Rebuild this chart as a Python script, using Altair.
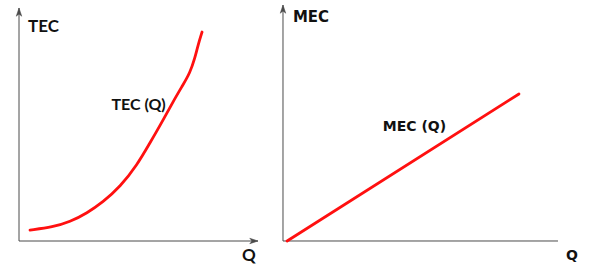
import altair as alt
import pandas as pd

# ---- data (economic units) ----
tec_q = [0.46, 1.42, 2.13, 2.85, 3.51, 4.23, 4.94, 5.48, 6.03, 6.44, 6.86, 7.15, 7.36, 7.49, 7.66]
tec_v = [0.47, 0.60, 0.82, 1.20, 1.67, 2.32, 3.26, 4.21, 5.19, 5.97, 6.70, 7.21, 7.85, 8.41, 8.97]
mec_q = [0.15, 8.58]
mec_v = [0.0, 6.23]

axis_max = 10

left_labels = ["TEC", "TEC (Q)", "Q"]
left_lx = [0.38, 5.0, 9.62]
left_ly = [9.18, 5.84, -0.64]
left_align = ["left", "center", "center"]
left_size = [17, 16, 17]
left_font = "Lato"

right_labels = ["MEC", "MEC (Q)", "Q"]
right_lx = [0.36, 4.78, 10.51]
right_ly = [9.49, 4.83, -0.64]
right_align = ["left", "center", "center"]
right_size = [15, 14, 14]
right_font = "DejaVu Sans"

RED = "#ff1010"
AX = "#4a4a4a"
TXT = "#111111"

UP = "M0,0 L-0.32,0.95 L0,0.7 L0.32,0.95 Z"
RIGHT = "M0,0 L-0.95,-0.32 L-0.7,0 L-0.95,0.32 Z"


def panel(width, height, xdom, ydom, cq, cv, interp, labels, lx, ly, al, sz, font, x_arrow):
    xs = alt.Scale(domain=xdom, nice=False, zero=False)
    ys = alt.Scale(domain=ydom, nice=False, zero=False)

    axes = pd.DataFrame({"x": [0, 0], "x2": [axis_max, 0], "y": [0, 0], "y2": [0, axis_max]})
    rules = alt.Chart(axes).mark_rule(color=AX, strokeWidth=1).encode(
        x=alt.X("x:Q", scale=xs, axis=None),
        x2="x2:Q",
        y=alt.Y("y:Q", scale=ys, axis=None),
        y2="y2:Q",
    )

    up = alt.Chart(pd.DataFrame({"x": [0], "y": [axis_max]})).mark_point(
        shape=UP, filled=True, fill=AX, stroke=AX, strokeWidth=0.5, size=300, opacity=1
    ).encode(x=alt.X("x:Q", scale=xs, axis=None), y=alt.Y("y:Q", scale=ys, axis=None))

    layers = [rules, up]
    if x_arrow:
        rt = alt.Chart(pd.DataFrame({"x": [axis_max], "y": [0]})).mark_point(
            shape=RIGHT, filled=True, fill=AX, stroke=AX, strokeWidth=0.5, size=300, opacity=1
        ).encode(x=alt.X("x:Q", scale=xs, axis=None), y=alt.Y("y:Q", scale=ys, axis=None))
        layers.append(rt)

    curve = alt.Chart(pd.DataFrame({"q": cq, "v": cv})).mark_line(
        color=RED, strokeWidth=2.8, interpolate=interp, strokeCap="round"
    ).encode(x=alt.X("q:Q", scale=xs, axis=None), y=alt.Y("v:Q", scale=ys, axis=None), order="q:Q")
    layers.append(curve)

    for t, x, y, a, s in zip(labels, lx, ly, al, sz):
        tx = alt.Chart(pd.DataFrame({"x": [x], "y": [y], "t": [t]})).mark_text(
            font=font, fontWeight="bold", fontSize=s, color=TXT, align=a, baseline="middle"
        ).encode(x=alt.X("x:Q", scale=xs, axis=None), y=alt.Y("y:Q", scale=ys, axis=None), text="t:N")
        layers.append(tx)

    return alt.layer(*layers).properties(width=width, height=height)


left = panel(270, 265, [-0.795, 10.502], [-1.030, 10.343], tec_q, tec_v, "basis",
             left_labels, left_lx, left_ly, left_align, left_size, left_font, True)
right = panel(321, 265, [-0.4727, 11.2], [-1.017, 10.212], mec_q, mec_v, "linear",
              right_labels, right_lx, right_ly, right_align, right_size, right_font, False)

chart = alt.hconcat(left, right, spacing=0).resolve_scale(x="independent", y="independent").properties(
    padding=0, background="white"
).configure_view(stroke=None)

chart.save("out.html", embed_options={"renderer": "svg", "actions": False})
